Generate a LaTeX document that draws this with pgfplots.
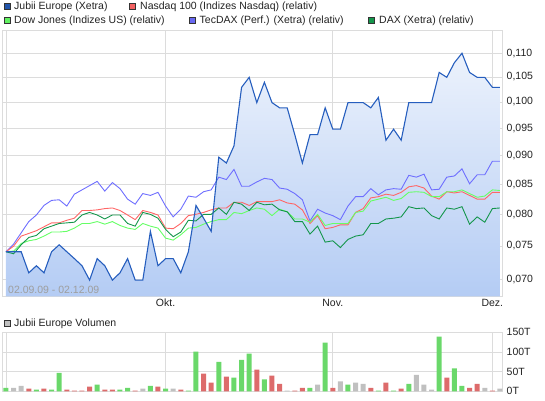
\documentclass[border=0pt]{standalone}
\usepackage{pgfplots}
\pgfplotsset{compat=1.18}
\usepackage{pgfplotstable}
\usepackage{fontspec}
\setmainfont{Liberation Sans}

\definecolor{jub}{RGB}{38,94,190}
\definecolor{nas}{RGB}{255,102,102}
\definecolor{dow}{RGB}{102,255,102}
\definecolor{tec}{RGB}{110,110,255}
\definecolor{dax}{RGB}{20,150,75}
\definecolor{grd}{RGB}{220,220,220}
\definecolor{vg}{RGB}{106,216,106}
\definecolor{vr}{RGB}{221,107,107}
\definecolor{vy}{RGB}{192,192,192}
\definecolor{ftop}{RGB}{236,242,252}
\definecolor{fbot}{RGB}{180,204,244}
\definecolor{txt}{RGB}{34,34,34}

\newcommand{\myfs}{\fontsize{10.5bp}{12bp}\selectfont}

\pgfplotstableread{
i  J      N      D      T      X
0  0.075  0.0750 0.0750 0.0750 0.0750
1  0.075  0.0758 0.0751 0.0761 0.0747
2  0.075  0.0773 0.0762 0.0778 0.0760
3  0.072  0.0777 0.0766 0.0795 0.0771
4  0.073  0.0781 0.0768 0.0805 0.0774
5  0.072  0.0787 0.0773 0.0820 0.0784
6  0.075  0.0793 0.0779 0.0828 0.0788
7  0.076  0.0793 0.0779 0.0829 0.0792
8  0.075  0.0797 0.0780 0.0819 0.0793
9  0.074  0.0800 0.0785 0.0838 0.0794
10 0.073  0.0812 0.0792 0.0845 0.0805
11 0.071  0.0812 0.0792 0.0852 0.0809
12 0.074  0.0813 0.0795 0.0859 0.0805
13 0.073  0.0815 0.0791 0.0843 0.0799
14 0.071  0.0816 0.0795 0.0857 0.0805
15 0.072  0.0812 0.0789 0.0847 0.0805
16 0.074  0.0805 0.0785 0.0830 0.0792
17 0.071  0.0798 0.0783 0.0822 0.0788
18 0.071  0.0812 0.0792 0.0839 0.0809
19 0.078  0.0809 0.0788 0.0836 0.0806
20 0.073  0.0805 0.0785 0.0841 0.0800
21 0.074  0.0785 0.0770 0.0819 0.0783
22 0.074  0.0784 0.0767 0.0802 0.0772
23 0.072  0.0792 0.0775 0.0814 0.0779
24 0.075  0.0804 0.0785 0.0835 0.0797
25 0.082  0.0806 0.0786 0.0833 0.0796
26 0.080  0.0809 0.0791 0.0842 0.0806
27 0.078  0.0813 0.0795 0.0845 0.0806
28 0.090  0.0816 0.0798 0.0866 0.0816
29 0.089  0.0816 0.0798 0.0862 0.0806
30 0.092  0.0825 0.0809 0.0879 0.0825
31 0.103  0.0825 0.0807 0.0851 0.0822
32 0.105  0.0820 0.0812 0.0851 0.0812
33 0.100  0.0826 0.0816 0.0858 0.0825
34 0.104  0.0826 0.0814 0.0864 0.0821
35 0.100  0.0826 0.0804 0.0862 0.0822
36 0.099  0.0829 0.0814 0.0848 0.0813
37 0.099  0.0824 0.0810 0.0846 0.0810
38 0.094  0.0822 0.0799 0.0839 0.0795
39 0.089  0.0813 0.0799 0.0829 0.0795
40 0.094  0.0792 0.0794 0.0796 0.0776
41 0.094  0.0804 0.0806 0.0814 0.0788
42 0.099  0.0784 0.0789 0.0808 0.0764
43 0.095  0.0786 0.0792 0.0804 0.0766
44 0.095  0.0790 0.0792 0.0798 0.0756
45 0.100  0.0790 0.0792 0.0819 0.0768
46 0.100  0.0809 0.0809 0.0834 0.0773
47 0.100  0.0815 0.0811 0.0834 0.0775
48 0.099  0.0832 0.0827 0.0847 0.0792
49 0.101  0.0834 0.0830 0.0837 0.0792
50 0.093  0.0838 0.0833 0.0845 0.0799
51 0.095  0.0836 0.0828 0.0847 0.0800
52 0.093  0.0841 0.0831 0.0846 0.0802
53 0.100  0.0850 0.0841 0.0869 0.0818
54 0.100  0.0852 0.0842 0.0866 0.0815
55 0.100  0.0848 0.0841 0.0871 0.0816
56 0.100  0.0835 0.0834 0.0845 0.0804
57 0.106  0.0830 0.0834 0.0846 0.0799
58 0.105  0.0842 0.0842 0.0866 0.0816
59 0.108  0.0840 0.0842 0.0868 0.0814
60 0.110  0.0842 0.0845 0.0880 0.0818
61 0.106  0.0836 0.0839 0.0855 0.0791
62 0.105  0.0830 0.0833 0.0870 0.0802
63 0.105  0.0830 0.0835 0.0870 0.0794
64 0.103  0.0841 0.0845 0.0893 0.0815
65 0.103  0.0841 0.0844 0.0893 0.0816
}\prices

\begin{document}
\begin{tikzpicture}
\path[use as bounding box] (0bp,0bp) rectangle (545bp,401bp);

\begin{axis}[
  at={(2.7bp,104.5bp)}, anchor=south west, scale only axis,
  width=500bp, height=266.4bp,
  xmin=-0.434, xmax=65.36,
  y coord trafo/.code={\pgfmathparse{ln(#1)}},
  y coord inv trafo/.code={\pgfmathparse{exp(#1)}},
  ymin=0.067497, ymax=0.115,
  xtick={0,21,43,64}, xticklabels={,Okt.,Nov.,Dez.},
  ytick={0.07,0.075,0.08,0.085,0.09,0.095,0.1,0.105,0.11},
  yticklabels={{0,070},{0,075},{0,080},{0,085},{0,090},{0,095},{0,100},{0,105},{0,110}},
  yticklabel pos=right,
  grid=major, major grid style={grd, line width=0.8bp},
  axis line style={grd, line width=0.8bp},
  major tick length=0pt,
  ticklabel style={font=\myfs, text=txt},
  yticklabel style={anchor=west, xshift=0.5bp},
  xticklabel style={yshift=1bp},
]
\addplot[draw=none, top color=ftop, bottom color=fbot] table[x=i,y=J] {\prices}
  -- (axis cs:65,0.067497) -- (axis cs:0,0.067497) -- cycle;
\addplot[tec, line width=0.9bp] table[x=i,y=T] {\prices};
\addplot[nas, line width=0.9bp] table[x=i,y=N] {\prices};
\addplot[dow, line width=0.9bp] table[x=i,y=D] {\prices};
\addplot[dax, line width=0.9bp] table[x=i,y=X] {\prices};
\addplot[jub, line width=1.1bp] table[x=i,y=J] {\prices};
\end{axis}

\node[anchor=base west, inner sep=0pt, text=black!38, font=\myfs] at (8bp,107bp) {02.09.09 - 02.12.09};

\begin{axis}[
  at={(2.7bp,9.7bp)}, anchor=south west, scale only axis,
  width=500bp, height=59bp,
  xmin=-0.434, xmax=65.36, ymin=0, ymax=150,
  xtick={0,21,43,64}, xticklabels={},
  ytick={0,50,100,150}, yticklabels={0T,50T,100T,150T},
  yticklabel pos=right,
  grid=major, major grid style={grd, line width=0.8bp},
  axis line style={grd, line width=0.8bp},
  major tick length=0pt,
  ticklabel style={font=\myfs, text=txt},
  yticklabel style={anchor=west, xshift=0.5bp},
  ybar, bar width=5bp,
]
\addplot[fill=vg, draw=none, bar shift=0pt] coordinates {
(0,9) (4,4) (6,4) (7,47) (12,17) (15,4) (16,9) (19,14) (21,7) (24,2) (25,101)
(28,75) (30,35) (31,80) (32,96) (34,30) (40,9) (42,124) (45,17) (49,2) (51,2)
(53,19) (57,139) (59,58) (60,14)};
\addplot[fill=vr, draw=none, bar shift=0pt] coordinates {
(3,7) (5,7) (8,4) (9,2) (10,2) (11,12) (13,4) (14,4) (17,2) (20,12) (23,4)
(26,45) (27,22) (29,37) (33,55) (35,40) (36,19) (38,2) (39,9) (43,9) (48,9)
(50,22) (52,7) (58,35) (61,9) (62,19) (64,2)};
\addplot[fill=vy, draw=none, bar shift=0pt] coordinates {
(1,9) (2,14) (18,7) (22,7) (37,2) (41,17) (44,25) (46,22) (47,19) (54,42)
(55,17) (56,4) (63,9) (65,7)};
\end{axis}

% legends
\begin{scope}[font=\myfs]
\draw[black!80, fill=jub!90!black] (4bp,391.5bp) rectangle (10bp,397.5bp);
\node[anchor=base west, inner sep=0pt, text=txt] at (14bp,391bp) {Jubii Europe (Xetra)};
\draw[black!80, fill=nas!95!black] (129.5bp,391.5bp) rectangle (135.5bp,397.5bp);
\node[anchor=base west, inner sep=0pt, text=txt] at (140bp,391bp) {Nasdaq 100 (Indizes Nasdaq) (relativ)};
\draw[black!80, fill=dow!95!black] (4bp,377.7bp) rectangle (10bp,383.7bp);
\node[anchor=base west, inner sep=0pt, text=txt] at (14bp,377.5bp) {Dow Jones (Indizes US) (relativ)};
\draw[black!80, fill=tec!95!black] (189.5bp,377.7bp) rectangle (195.5bp,383.7bp);
\node[anchor=base west, inner sep=0pt, text=txt] at (199.5bp,377.5bp) {TecDAX (Perf.) (Xetra) (relativ)};
\draw[black!80, fill=dax] (368.5bp,377.7bp) rectangle (374.5bp,383.7bp);
\node[anchor=base west, inner sep=0pt, text=txt] at (379bp,377.5bp) {DAX (Xetra) (relativ)};
\draw[black!80, fill=vy] (4bp,74.5bp) rectangle (10bp,80.5bp);
\node[anchor=base west, inner sep=0pt, text=txt] at (14bp,74.3bp) {Jubii Europe Volumen};
\end{scope}
\end{tikzpicture}
\end{document}
